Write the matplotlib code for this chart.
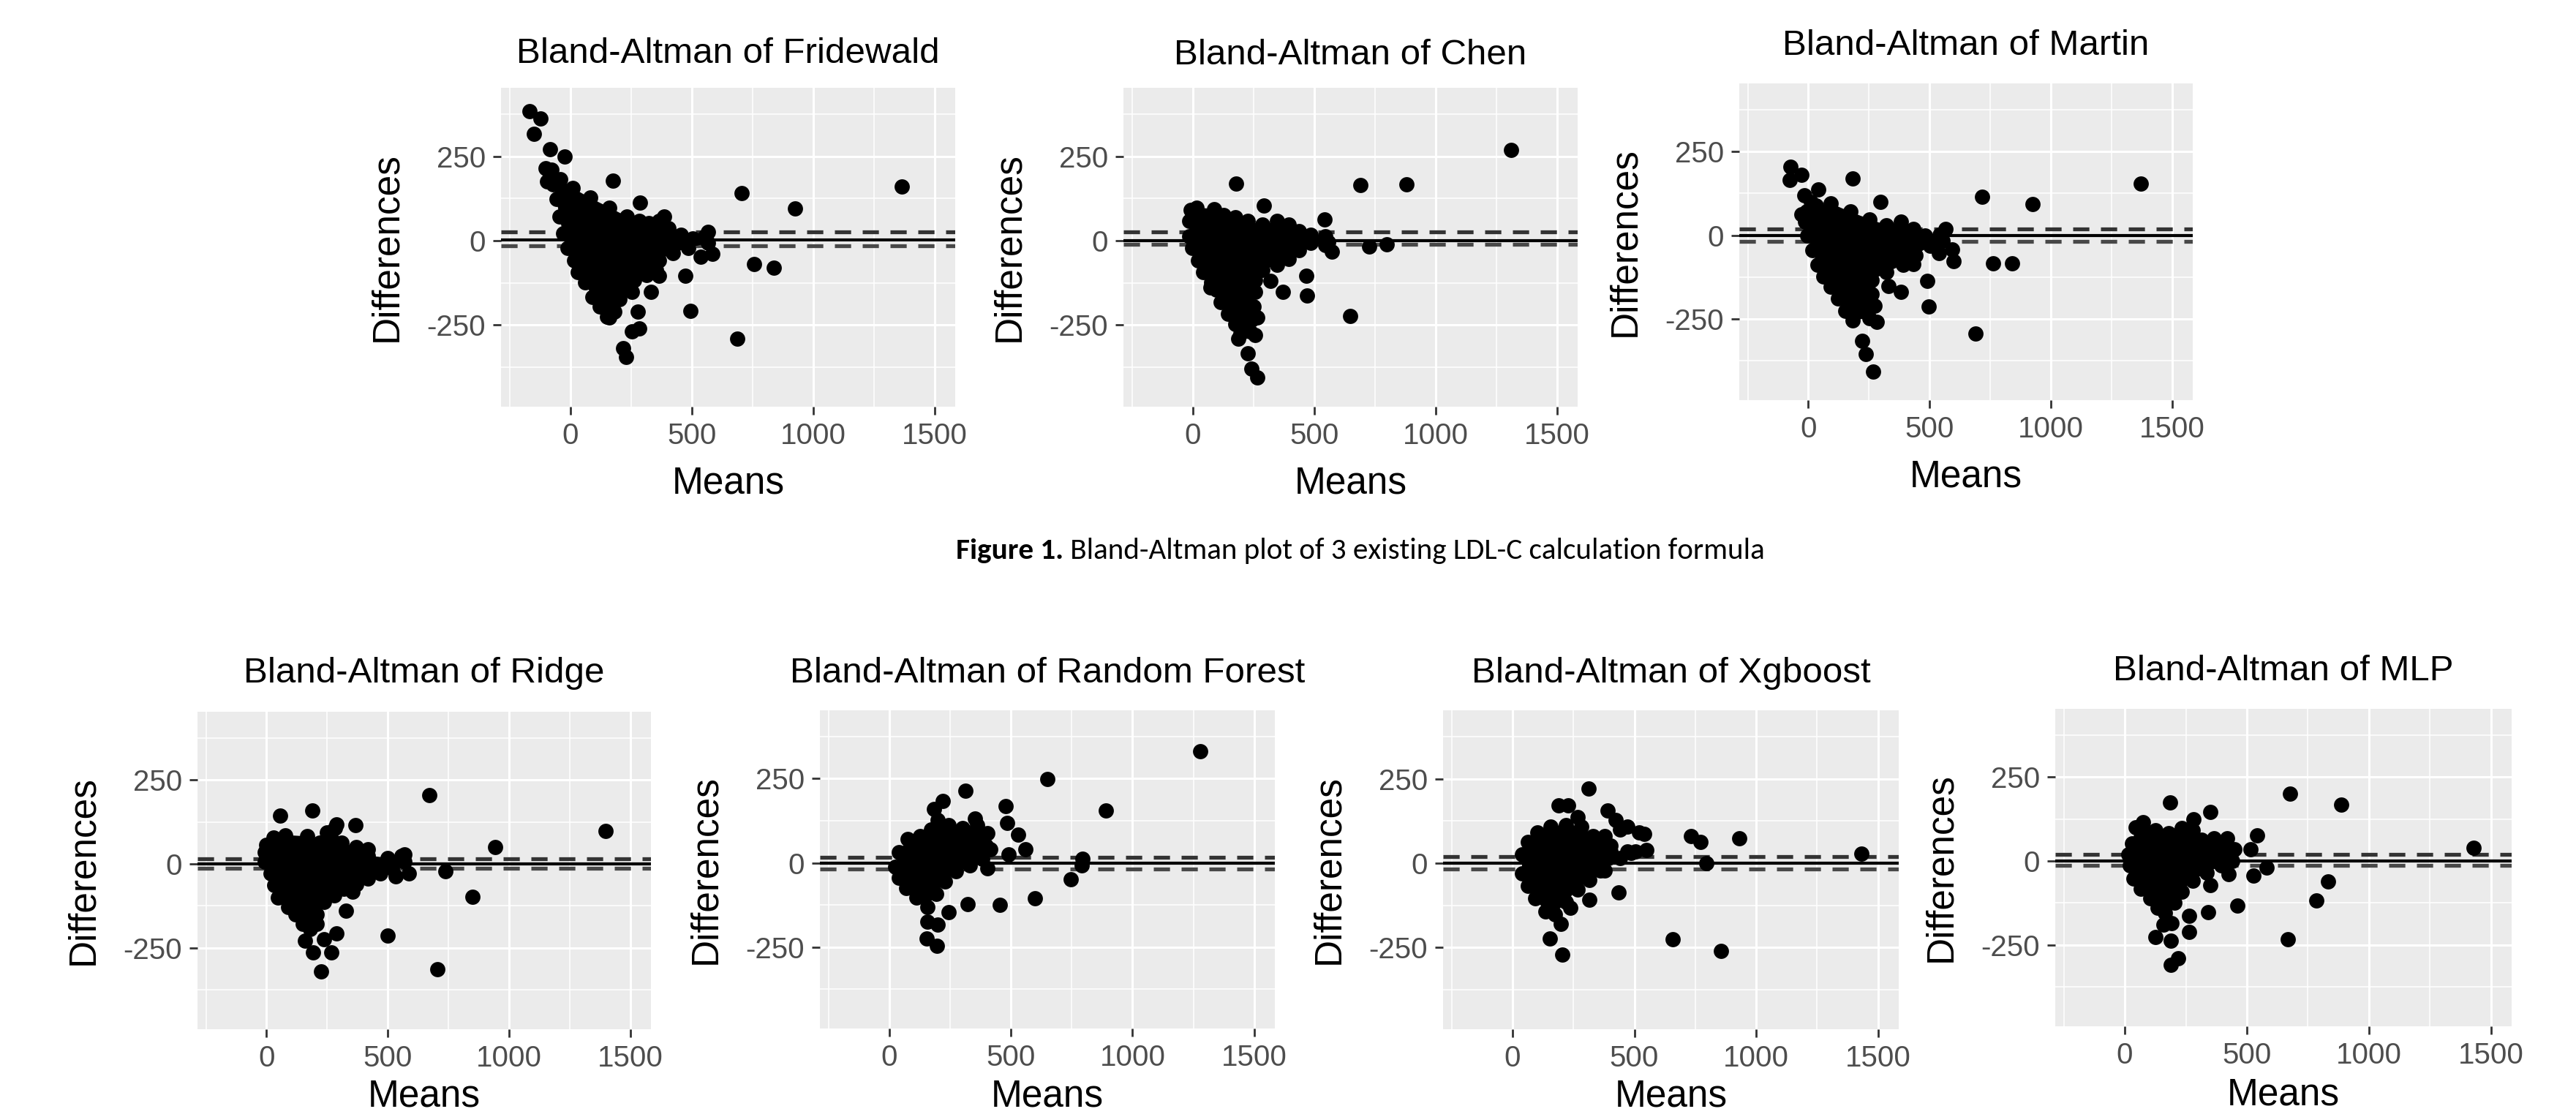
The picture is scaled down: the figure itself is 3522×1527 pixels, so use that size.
import matplotlib
matplotlib.use("Agg")
import matplotlib.pyplot as plt

plt.rcParams['font.family'] = ['Liberation Sans', 'DejaVu Sans']

# ---------------- data ----------------
titles = ["Bland-Altman of Fridewald", "Bland-Altman of Chen", "Bland-Altman of Martin",
          "Bland-Altman of Ridge", "Bland-Altman of Random Forest",
          "Bland-Altman of Xgboost", "Bland-Altman of MLP"]

# dense core outline (centres of outermost dots) and individual visible points
fridewald_core_x = [-76, -40, 10, 81, 162, 232, 283, 323, 364, 404, 455, 505, 556, 566, 485, 424, 364, 354,
                    313, 263, 232, 202, 182, 152, 121, 91, 61, 30, 15, -10, -30, -45, -56, -71]
fridewald_core_y = [210, 181, 156, 127, 98, 72, 58, 51, 58, 36, 18, 7, 14, -7, -22, -36, -58, -87,
                    -101, -116, -138, -174, -210, -225, -196, -167, -123, -94, -58, -22, 22, 72, 123, 167]
fridewald_x = [-167, -121, -149, -83, -22, -100, -95, 177, 705, 926, 1366, 288, 386, 568, 586, 538, 758, 838,
               473, 495, 689, 253, 283, 217, 230, 333, 255, 278, 162, 364]
fridewald_y = [384, 362, 317, 270, 250, 215, 175, 178, 141, 96, 161, 112, 72, 25, -40, -47, -69, -80,
               -105, -207, -290, -268, -261, -319, -344, -152, -152, -210, -228, -105]

chen_core_x = [-8, 17, 87, 127, 177, 227, 287, 347, 397, 437, 487, 547, 557, 547, 487, 437, 397, 347, 287,
               257, 257, 252, 247, 237, 197, 177, 147, 117, 97, 77, 42, 22, -3, -13, -13]
chen_core_y = [91, 98, 94, 76, 69, 58, 47, 58, 47, 29, 18, 14, -4, -14, -7, -29, -54, -72, -87,
               -116, -152, -196, -232, -268, -275, -246, -217, -181, -145, -123, -94, -58, -22, 14, 58]
chen_x = [179, 690, 880, 1310, 292, 544, 727, 799, 572, 469, 470, 372, 319, 649, 72, 227, 242, 265, 187, 257, 267]
chen_y = [170, 164, 167, 268, 104, 62, -18, -11, -33, -103, -163, -152, -120, -223, -138, -333, -380, -406,
          -290, -279, -228]

martin_core_x = [-8, 32, 92, 172, 252, 322, 382, 432, 482, 542, 552, 502, 442, 392, 322, 262, 262, 272, 252,
                 182, 152, 122, 92, 62, 37, 17, -3, -13]
martin_core_y = [70, 88, 95, 70, 48, 30, 41, 19, -2, 1, -17, -31, -60, -88, -110, -135, -175, -211, -247,
                 -254, -225, -189, -153, -124, -88, -45, -2, 41]
martin_x = [-73, -78, -28, 40, 184, 297, 715, 925, 1370, 567, 592, 600, 537, 762, 839, 489, 497, 690, 382, 330,
            432, 222, 237, 267, 282, -18, 12, -28]
martin_y = [205, 165, 181, 136, 169, 99, 115, 93, 154, 19, -42, -78, -53, -83, -83, -137, -213, -294, -168, -152,
            -87, -315, -355, -406, -258, 120, 100, 63]

ridge_core_x = [-2, 28, 78, 168, 218, 248, 283, 308, 368, 418, 498, 558, 568, 518, 468, 418, 368, 318, 278,
                238, 208, 208, 178, 148, 118, 88, 48, 33, 18, -7, -7]
ridge_core_y = [57, 79, 86, 82, 64, 93, 107, 64, 50, 25, 18, 25, 7, -14, -29, -43, -61, -75, -93,
                -114, -150, -179, -193, -179, -150, -129, -100, -64, -29, 7, 36]
ridge_x = [56, 188, 671, 943, 1398, 366, 288, 418, 568, 586, 533, 736, 848, 498, 703, 328, 353, 226, 193, 268,
           288, 158, 238]
ridge_y = [144, 159, 204, 51, 99, 116, 118, 43, 29, -29, -36, -21, -98, -214, -314, -139, -82, -321, -264, -264,
           -207, -229, -225]

rf_core_x = [39, 76, 127, 171, 200, 243, 302, 360, 404, 397, 382, 331, 273, 229, 192, 156, 112, 69, 39, 25]
rf_core_y = [32, 70, 80, 99, 128, 113, 104, 113, 89, 51, 12, -7, -26, -55, -93, -131, -103, -74, -45, -12]
rf_x = [1278, 649, 313, 219, 185, 480, 892, 353, 484, 531, 560, 491, 415, 794, 790, 746, 404, 598, 455, 321,
        243, 200, 157, 153, 195]
rf_y = [332, 249, 214, 183, 159, 169, 156, 132, 118, 84, 41, 25, 41, 12, -7, -48, -16, -105, -124, -122,
        -146, -184, -175, -225, -246]

xgb_core_x = [39, 63, 102, 157, 220, 283, 330, 377, 401, 393, 361, 314, 267, 220, 173, 134, 94, 63, 39]
xgb_core_y = [25, 62, 90, 109, 113, 109, 81, 81, 53, 16, -21, -49, -77, -114, -151, -142, -105, -68, -31]
xgb_x = [311, 188, 228, 390, 267, 424, 471, 518, 539, 550, 487, 401, 440, 471, 503, 733, 772, 931, 797, 1432,
         436, 314, 236, 154, 204, 657, 856, 377, 440, 199]
xgb_y = [222, 172, 172, 155, 137, 127, 109, 90, 86, 39, 30, 34, 16, 34, 34, 81, 62, 73, 0, 28,
         -86, -108, -133, -223, -270, -226, -260, -21, 99, -179]

mlp_core_x = [30, 45, 75, 127, 179, 232, 277, 314, 366, 419, 449, 441, 396, 336, 277, 232, 202, 164, 135, 105,
              67, 37, 22, 15]
mlp_core_y = [53, 101, 116, 92, 82, 97, 92, 63, 68, 68, 34, 0, -14, -34, -58, -92, -125, -154, -140, -111,
              -82, -53, -14, 19]
mlp_x = [184, 676, 887, 351, 281, 543, 516, 528, 581, 834, 784, 461, 341, 668, 127, 187, 262, 262, 187, 217,
         1428, 426, 351, 160, 190]
mlp_y = [174, 200, 167, 147, 125, 77, 34, -43, -19, -60, -118, -132, -152, -232, -227, -238, -212, -164, -309, -290,
         39, -39, -72, -190, -185]

# mean difference and limits (solid, upper dashed, lower dashed)
mean_line = [3, 1, 0, 1, 0, 0, 0]
upper_line = [25, 25, 19, 16, 17, 19, 19]
lower_line = [-15, -11, -19, -14, -19, -17, -14]

x_ticks = [0, 500, 1000, 1500]
y_ticks = [-250, 0, 250]
caption_bold = "Figure 1."
caption_rest = " Bland-Altman plot of 3 existing LDL-C calculation formula"

cores_x = [fridewald_core_x, chen_core_x, martin_core_x, ridge_core_x, rf_core_x, xgb_core_x, mlp_core_x]
cores_y = [fridewald_core_y, chen_core_y, martin_core_y, ridge_core_y, rf_core_y, xgb_core_y, mlp_core_y]
pts_x = [fridewald_x, chen_x, martin_x, ridge_x, rf_x, xgb_x, mlp_x]
pts_y = [fridewald_y, chen_y, martin_y, ridge_y, rf_y, xgb_y, mlp_y]

# ---------------- layout ----------------
W, H, DPI = 3522, 1527, 100
boxes = [(685, 120, 1306, 556), (1536, 120, 2157, 556), (2378, 114, 2998, 547),
         (270, 973, 890, 1407), (1121, 971, 1743, 1406), (1973, 971, 2596, 1407), (2810, 969, 3434, 1403)]
title_y = [73, 76, 62, 921, 921, 921, 918]
means_y = [661, 661, 652, 1499, 1499, 1499, 1497]

fig = plt.figure(figsize=(W / DPI, H / DPI), dpi=DPI)
fig.patch.set_facecolor('white')

for i in range(7):
    x0, yt, x1, yb = boxes[i]
    wpx, hpx = x1 - x0, yb - yt
    ax = fig.add_axes([x0 / W, 1 - yb / H, wpx / W, hpx / H])
    ax.set_facecolor('#EBEBEB')
    for s in ax.spines.values():
        s.set_visible(False)
    ax.set_xlim(-285, 1585)
    ax.set_ylim(-492, 453)
    ax.set_xticks(x_ticks)
    ax.set_xticklabels([str(v) for v in x_ticks])
    ax.set_xticks([-250, 250, 750, 1250], minor=True)
    ax.set_yticks(y_ticks)
    ax.set_yticklabels([str(v) for v in y_ticks])
    ax.set_yticks([-375, -125, 125, 375], minor=True)
    ax.grid(which='major', color='white', lw=2.2)
    ax.grid(which='minor', color='white', lw=1.1)
    ax.set_axisbelow(True)
    ax.tick_params(which='minor', length=0)
    ax.tick_params(which='major', length=8, width=2, color='#333333', labelsize=29,
                   labelcolor='#4D4D4D', pad=7)

    ax.axhline(mean_line[i], color='black', lw=3, zorder=2)
    ax.axhline(upper_line[i], color='#333333', lw=3.8, ls=(0, (4.2, 3.0)), zorder=2)
    ax.axhline(lower_line[i], color='#484848', lw=3.8, ls=(0, (4.2, 3.0)), zorder=2)

    ax.fill(cores_x[i], cores_y[i], color='black', lw=0, zorder=3)
    ax.scatter(cores_x[i] + pts_x[i], cores_y[i] + pts_y[i], s=225, c='black', lw=0, zorder=3)

    ax.text(0.5, 1 + (yt - title_y[i]) / hpx, titles[i], transform=ax.transAxes,
            ha='center', va='center', fontsize=35.5, color='black')
    ax.text(0.5, -(means_y[i] - yb) / hpx, 'Means', transform=ax.transAxes, ha='center', va='center',
            fontsize=37, color='black')
    ax.text(-156 / wpx, 0.5, 'Differences', transform=ax.transAxes, ha='center', va='center',
            rotation=90, fontsize=37, color='black')

# caption
cap_font = ['Carlito', 'Liberation Sans Narrow', 'Lato', 'DejaVu Sans']
fig.canvas.draw()
r = fig.canvas.get_renderer()
fs = 20
t1 = fig.text(0, 1 - 753 / H, caption_bold, fontsize=fs, fontweight='bold', family=cap_font, va='center')
t2 = fig.text(0, 1 - 753 / H, caption_rest, fontsize=fs, family=cap_font, va='center')
w_tot = t1.get_window_extent(r).width + t2.get_window_extent(r).width
fs2 = fs * (2414 - 1307) / w_tot
t1.set_fontsize(fs2)
t2.set_fontsize(fs2)
w1 = t1.get_window_extent(r).width
t1.set_x(1307 / W)
t2.set_x((1307 + w1) / W)

fig.savefig('out.png', dpi=DPI, facecolor='white')
